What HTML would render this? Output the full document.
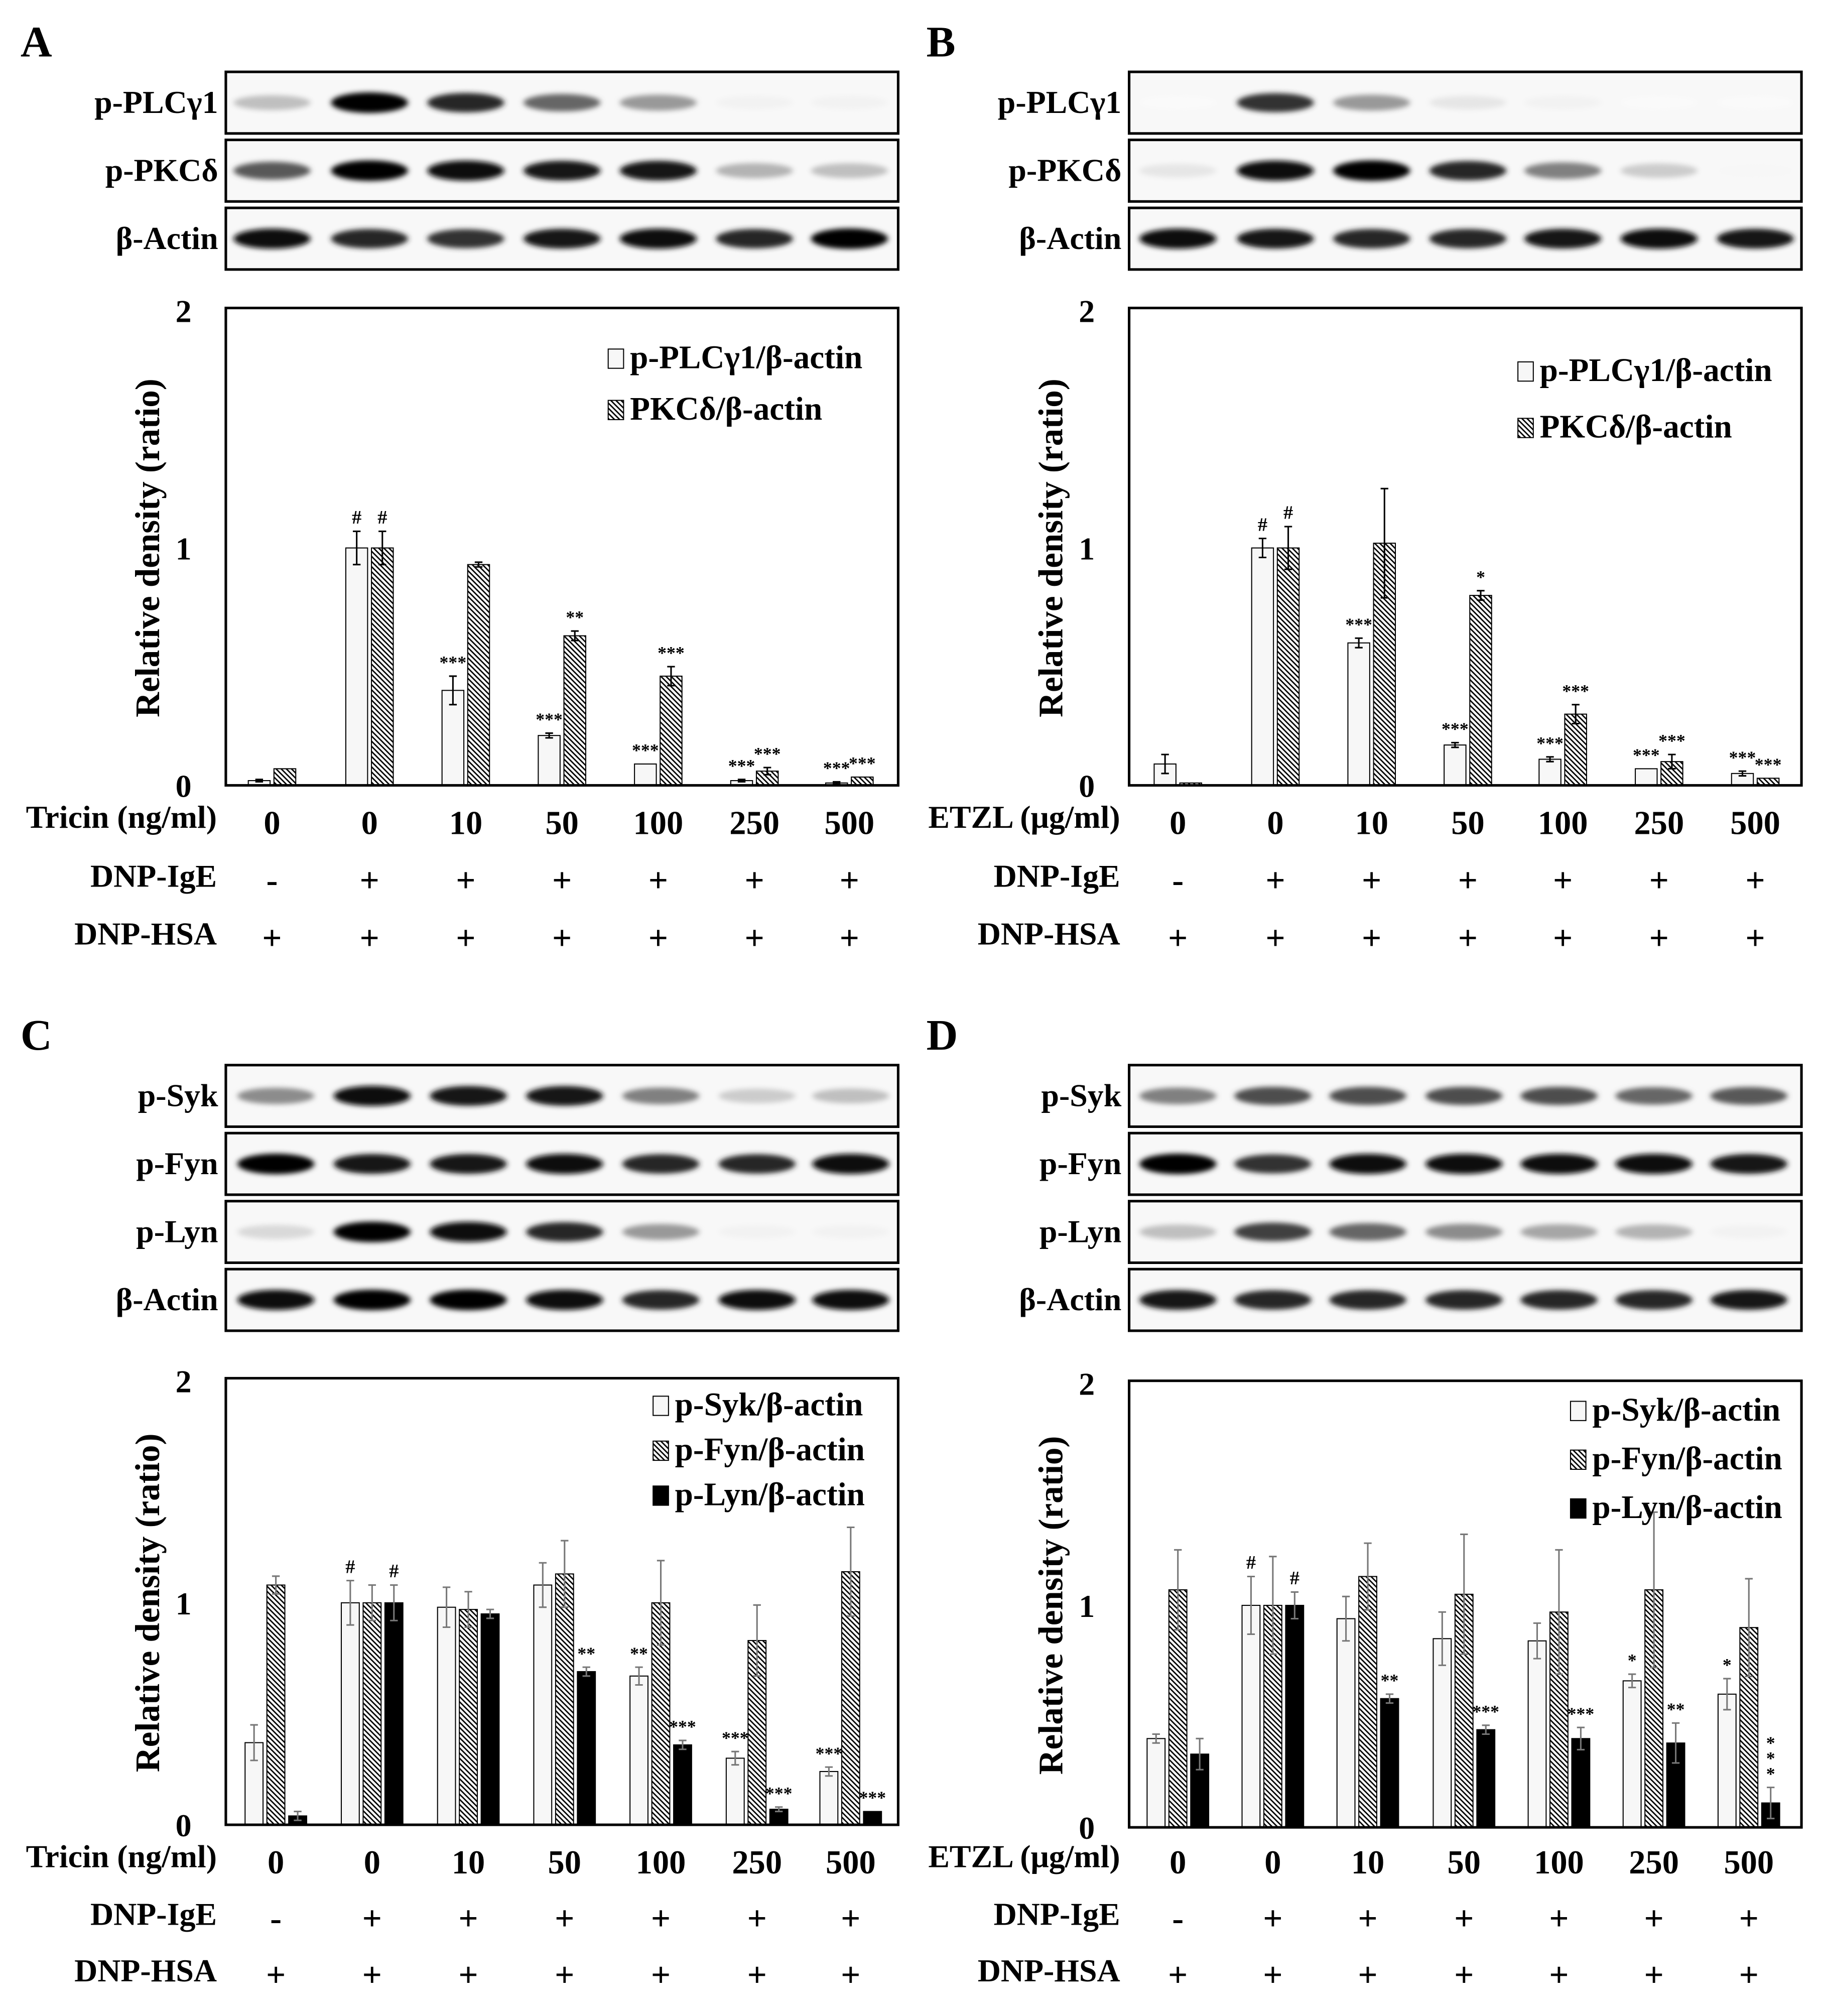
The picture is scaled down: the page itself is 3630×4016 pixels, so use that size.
<!DOCTYPE html>
<html><head><meta charset="utf-8"><style>
html,body{margin:0;padding:0;background:#fff}
svg{display:block}
text{font-family:"Liberation Serif","Times New Roman",serif;font-weight:bold;fill:#000}
</style></head>
<body>
<svg id="fig" width="3630" height="4016" viewBox="0 0 1420 1571" xmlns="http://www.w3.org/2000/svg">
<defs>
<pattern id="hatch" patternUnits="userSpaceOnUse" width="4" height="4">
<rect width="4" height="4" fill="#fff"/>
<path d="M-1,-1 L5,5 M-1,3 L1,5 M3,-1 L5,1" stroke="#000" stroke-width="1.1"/>
</pattern>
<filter id="blur" x="-20%" y="-100%" width="140%" height="300%"><feGaussianBlur stdDeviation="2.2 2"/></filter>
</defs>
</svg>
<script>
// ---- Data ----
const doses1 = ["0","0","10","50","100","250","500"];
const igeRow = ["-","+","+","+","+","+","+"];
const hsaRow = ["+","+","+","+","+","+","+"];
const yTicks = [0,1,2];

const aPlc = [0.02,1.0,0.40,0.21,0.09,0.02,0.01];
const aPlcErr = [0.005,0.07,0.06,0.01,0.0,0.005,0.005];
const aPkc = [0.07,1.0,0.93,0.63,0.46,0.06,0.035];
const aPkcErr = [0.0,0.07,0.01,0.02,0.04,0.015,0.0];
const aPlcSig = ["","#","***","***","***","***","***"];
const aPkcSig = ["","#","","**","***","***","***"];

const bPlc = [0.09,1.0,0.60,0.17,0.11,0.07,0.05];
const bPlcErr = [0.04,0.04,0.02,0.01,0.01,0.0,0.01];
const bPkc = [0.01,1.0,1.02,0.80,0.30,0.10,0.03];
const bPkcErr = [0.0,0.09,0.23,0.02,0.04,0.03,0.0];
const bPlcSig = ["","#","***","***","***","***","***"];
const bPkcSig = ["","#","","*","***","***","***"];

const cSyk = [0.37,1.0,0.98,1.08,0.67,0.30,0.24];
const cSykErr = [0.08,0.10,0.09,0.10,0.04,0.03,0.02];
const cFyn = [1.08,1.0,0.97,1.13,1.0,0.83,1.14];
const cFynErr = [0.04,0.08,0.08,0.15,0.19,0.16,0.20];
const cLyn = [0.04,1.0,0.95,0.69,0.36,0.07,0.06];
const cLynErr = [0.02,0.08,0.02,0.02,0.02,0.01,0.0];
const cSykSig = ["","#","","","**","***","***"];
const cFynSig = ["","","","","","",""];
const cLynSig = ["","#","","**","***","***","***"];

const dSyk = [0.40,1.0,0.94,0.85,0.84,0.66,0.60];
const dSykErr = [0.02,0.13,0.10,0.12,0.08,0.03,0.07];
const dFyn = [1.07,1.0,1.13,1.05,0.97,1.07,0.90];
const dFynErr = [0.18,0.22,0.15,0.27,0.28,0.35,0.22];
const dLyn = [0.33,1.0,0.58,0.44,0.40,0.38,0.11];
const dLynErr = [0.07,0.06,0.02,0.02,0.05,0.09,0.07];
const dSykSig = ["","#","","","","*","*"];
const dFynSig = ["","","","","","",""];
const dLynSig = ["","#","**","***","***","**","*\n*\n*"];

// blot intensities (0..1) per lane
const blotA = [[0.25,1,0.85,0.6,0.4,0.05,0.05],[0.65,1,0.95,0.9,0.9,0.3,0.25],[0.95,0.85,0.8,0.9,0.95,0.85,1]];
const blotB = [[0.02,0.8,0.4,0.1,0.05,0.02,0.02],[0.1,0.95,1,0.85,0.5,0.2,0.03],[0.95,0.9,0.85,0.85,0.9,0.95,0.9]];
const blotC = [[0.45,0.95,0.9,0.9,0.5,0.2,0.25],[1,0.9,0.9,0.95,0.85,0.85,0.95],[0.15,1,0.95,0.85,0.4,0.05,0.05],[0.95,1,1,0.95,0.85,0.95,0.95]];
const blotD = [[0.5,0.7,0.7,0.7,0.7,0.6,0.65],[1,0.8,0.95,0.95,0.95,0.95,0.9],[0.25,0.75,0.6,0.45,0.35,0.3,0.05],[0.9,0.85,0.85,0.85,0.85,0.85,0.9]];

const NS="http://www.w3.org/2000/svg";
const svg=document.getElementById('fig');
function el(tag,attrs,parent){const e=document.createElementNS(NS,tag);for(const k in attrs)e.setAttribute(k,attrs[k]);(parent||svg).appendChild(e);return e;}
function txt(s,x,y,size,anchor,parent){const t=el('text',{x:x,y:y,'font-size':size,'text-anchor':anchor||'middle'},parent);t.textContent=s;return t;}

function panelLetter(ch,x,y){const t=txt(ch,x,y,34,'start');}

function blots(x0,x1,rows,labels,intens,centers){
  rows.forEach((r,i)=>{
    const g=el('g',{});
    
    
    el('rect',{x:x0,y:r[0],width:x1-x0,height:r[1]-r[0],fill:'#f8f8f8',stroke:'#000','stroke-width':2},g);
    const cy=(r[0]+r[1])/2;
    intens[i].forEach((v,j)=>{
      const c=Math.round(255*(1-v));
      el('ellipse',{cx:centers[j],cy:cy,rx:30,ry:5+3*v,fill:`rgb(${c},${c},${c})`,filter:'url(#blur)'},g);
    });
    const l=txt(labels[i],x0-6,cy+8,25,'end');
    
    
  });
}

function chart(cfg){
  const g=el('g',{});
  
  
  const ys=v=>cfg.y0-(cfg.y0-cfg.y2)*v/2;
  const n=cfg.series.length, bw=cfg.bw, gap=cfg.gap;
  cfg.series.forEach((s,si)=>{
    s.vals.forEach((v,i)=>{
      const cx=cfg.centers[i]+(si-(n-1)/2)*(bw+gap);
      const b=el('rect',{x:cx-bw/2,y:ys(v),width:bw,height:cfg.y0-ys(v),fill:s.fill,stroke:'#000','stroke-width':0.8},g);
      
      
      const e=s.err[i];
      if(e>0){
        const eb=el('path',{d:`M${cx},${ys(v+e)}V${ys(v-e)}M${cx-3},${ys(v+e)}H${cx+3}M${cx-3},${ys(v-e)}H${cx+3}`,stroke:cfg.errColor,'stroke-width':1.2,fill:'none'},g);
        
        
      }
      const sg=s.sig[i];
      if(sg){
        const lines=sg.split('\n');
        lines.forEach((ln,k)=>{
          const t=txt(ln,cx,ys(v+e)-6-(lines.length-1-k)*12,ln==='#'?15:14,'middle',g);
          t.setAttribute('font-weight','normal');
          
          
        });
      }
    });
  });
  const frame=el('rect',{x:cfg.x0,y:cfg.y2-2,width:cfg.x1-cfg.x0,height:cfg.y0-cfg.y2+2,fill:'none',stroke:'#000','stroke-width':2},g);
  
  
  yTicks.forEach(t=>{
    const tl=txt(String(t),cfg.x0-33,ys(t)+9,25,'middle',g);
    
    
  });
  const yt=txt('Relative density (ratio)',0,0,27,'middle',g);
  yt.setAttribute('transform',`translate(${cfg.x0-52},${(cfg.y0+cfg.y2)/2}) rotate(-90)`);
  
  
  cfg.series.forEach((s,si)=>{
    const ly=cfg.legY+si*cfg.legDy;
    const sw=el('rect',{x:cfg.legX,y:ly-15,width:12,height:15,fill:s.fill,stroke:'#000','stroke-width':0.8},g);
    
    
    const lt=txt(s.label,cfg.legX+17,ly,25.5,'start',g);
    
    
  });
  const rows=[[cfg.doseLabel,doses1],['DNP-IgE',igeRow],['DNP-HSA',hsaRow]];
  rows.forEach((r,ri)=>{
    const yy=cfg.rowY[ri];
    const rl=txt(r[0],cfg.x0-7,yy,25,'end',g);
    
    
    r[1].forEach((v,i)=>{
      const c=txt(v,cfg.centers[i],yy+(ri===0?5:4),ri===0?26:27,'middle',g);
      
      
    });
  });
}

const cA=[212,288,363,438,513,588,662];
const cB=[918,994,1069,1144,1218,1293,1368];
const cC=[215,290,365,440,515,590,663];
const cD=[918,992,1066,1141,1215,1289,1363];

panelLetter('A',16,44);panelLetter('B',722,44);panelLetter('C',16,818);panelLetter('D',722,818);

blots(176,700,[[56,104],[109,157],[162,210]],['p-PLCγ1','p-PKCδ','β-Actin'],blotA,cA);
blots(880,1404,[[56,104],[109,157],[162,210]],['p-PLCγ1','p-PKCδ','β-Actin'],blotB,cB);
blots(176,700,[[830,878],[883,931],[936,984],[989,1037]],['p-Syk','p-Fyn','p-Lyn','β-Actin'],blotC,cC);
blots(880,1404,[[830,878],[883,931],[936,984],[989,1037]],['p-Syk','p-Fyn','p-Lyn','β-Actin'],blotD,cD);

const W='#f7f7f7',H='url(#hatch)',K='#000';
chart({name:'chart-a',x0:176,x1:700,y0:612,y2:242,centers:cA,bw:17,gap:3,errColor:'#000',legX:474,legY:287,legDy:40,doseLabel:'Tricin (ng/ml)',rowY:[645,691,736],
  series:[{key:'plc',label:'p-PLCγ1/β-actin',fill:W,vals:aPlc,err:aPlcErr,sig:aPlcSig},{key:'pkc',label:'PKCδ/β-actin',fill:H,vals:aPkc,err:aPkcErr,sig:aPkcSig}]});
chart({name:'chart-b',x0:880,x1:1404,y0:612,y2:242,centers:cB,bw:17,gap:3,errColor:'#000',legX:1183,legY:297,legDy:44,doseLabel:'ETZL (μg/ml)',rowY:[645,691,736],
  series:[{key:'plc',label:'p-PLCγ1/β-actin',fill:W,vals:bPlc,err:bPlcErr,sig:bPlcSig},{key:'pkc',label:'PKCδ/β-actin',fill:H,vals:bPkc,err:bPkcErr,sig:bPkcSig}]});
chart({name:'chart-c',x0:176,x1:700,y0:1422,y2:1076,centers:cC,bw:14,gap:3,errColor:'#777',legX:509,legY:1103,legDy:35,doseLabel:'Tricin (ng/ml)',rowY:[1455,1500,1544],
  series:[{key:'syk',label:'p-Syk/β-actin',fill:W,vals:cSyk,err:cSykErr,sig:cSykSig},{key:'fyn',label:'p-Fyn/β-actin',fill:H,vals:cFyn,err:cFynErr,sig:cFynSig},{key:'lyn',label:'p-Lyn/β-actin',fill:K,vals:cLyn,err:cLynErr,sig:cLynSig}]});
chart({name:'chart-d',x0:880,x1:1404,y0:1424,y2:1078,centers:cD,bw:14,gap:3,errColor:'#777',legX:1224,legY:1107,legDy:38,doseLabel:'ETZL (μg/ml)',rowY:[1455,1500,1544],
  series:[{key:'syk',label:'p-Syk/β-actin',fill:W,vals:dSyk,err:dSykErr,sig:dSykSig},{key:'fyn',label:'p-Fyn/β-actin',fill:H,vals:dFyn,err:dFynErr,sig:dFynSig},{key:'lyn',label:'p-Lyn/β-actin',fill:K,vals:dLyn,err:dLynErr,sig:dLynSig}]});
</script>
</body></html>
